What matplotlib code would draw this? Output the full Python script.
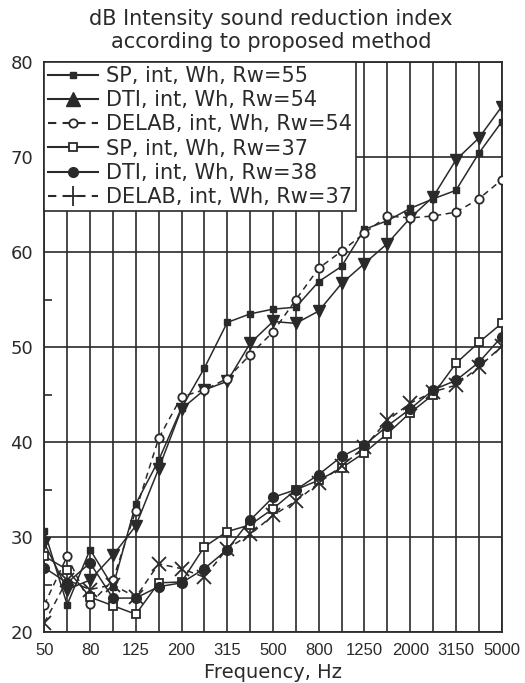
import matplotlib
matplotlib.use("Agg")
import matplotlib.pyplot as plt
from matplotlib.lines import Line2D
from matplotlib.ticker import MultipleLocator, FixedLocator

plt.rcParams['font.family'] = ['DejaVu Sans']

bands = ["50", "63", "80", "100", "125", "160", "200", "250", "315", "400", "500",
         "630", "800", "1000", "1250", "1600", "2000", "2500", "3150", "4000", "5000"]
tick_labels = ["50", "80", "125", "200", "315", "500", "800", "1250", "2000", "3150", "5000"]

sp55 = [30.7, 22.9, 28.7, 24.8, 33.5, 38.1, 43.6, 47.8, 52.6, 53.5, 54.0,
        54.2, 56.9, 58.5, 62.4, 63.3, 64.6, 65.6, 66.5, 70.4, 73.7]
dti54 = [29.4, 24.5, 25.5, 28.1, 31.2, 37.2, 43.5, 45.5, 46.4, 50.4, 52.7,
         52.5, 53.8, 56.7, 58.8, 60.9, 63.6, 65.8, 69.7, 72.0, 75.3]
delab54 = [22.9, 28.0, 23.0, 25.5, 32.8, 40.4, 44.8, 45.5, 46.7, 49.2, 51.6,
           55.0, 58.3, 60.1, 62.0, 63.8, 63.6, 63.8, 64.2, 65.6, 67.6]
sp37 = [28.0, 26.6, 23.7, 22.8, 21.9, 25.2, 25.3, 29.0, 30.6, 31.3, 33.0,
        35.0, 36.0, 37.3, 38.9, 40.9, 43.1, 45.0, 48.3, 50.5, 52.5]
dti38 = [26.8, 25.2, 27.3, 23.6, 23.6, 24.8, 25.2, 26.7, 28.7, 31.8, 34.2,
         35.0, 36.6, 38.5, 39.7, 41.7, 43.5, 45.5, 46.5, 48.4, 51.1]
delab37 = [21.0, 25.5, 24.5, 25.0, 23.7, 27.2, 26.7, 25.8, 28.8, 30.3, 32.3,
           33.8, 35.7, 37.5, 39.5, 42.3, 44.1, 45.3, 46.0, 47.9, 50.1]

labels = ["SP, int, Wh, Rw=55", "DTI, int, Wh, Rw=54", "DELAB, int, Wh, Rw=54",
          "SP, int, Wh, Rw=37", "DTI, int, Wh, Rw=38", "DELAB, int, Wh, Rw=37"]

C = "#2a2a2a"
x = list(range(len(bands)))

fig = plt.figure(figsize=(5.25, 6.83), dpi=100)
ax = fig.add_axes([44.3/525, 1-632.3/683, (501.7-44.3)/525, (632.3-62)/683])

dash = (0, (4, 3))
styles = [
    dict(ls='-', marker='s', ms=4.5, mfc=C),
    dict(ls='-', marker='v', ms=9, mfc=C),
    dict(ls=dash, marker='o', ms=6, mfc='white', mew=1.3),
    dict(ls='-', marker='s', ms=6, mfc='white', mew=1.3),
    dict(ls='-', marker='o', ms=7, mfc=C),
    dict(ls=dash, marker='x', ms=10, mew=1.3),
]
series = [sp55, dti54, delab54, sp37, dti38, delab37]
for s, st in zip(series, styles):
    ax.plot(x, s, color=C, lw=1.1, mec=C, zorder=3, **st)

ax.set_xlim(0, 20)
ax.set_ylim(20, 80)
ax.xaxis.set_major_locator(FixedLocator(list(range(0, 21, 2))))
ax.set_xticklabels(tick_labels, family=['Liberation Sans', 'DejaVu Sans'])
ax.xaxis.set_minor_locator(FixedLocator(list(range(1, 21, 2))))
ax.yaxis.set_major_locator(MultipleLocator(10))
ax.yaxis.set_minor_locator(MultipleLocator(5))
ax.grid(True, which='major', axis='y', color=C, lw=1.2)
ax.grid(True, which='both', axis='x', color=C, lw=1.2)
ax.tick_params(axis='both', which='both', direction='in', color=C, labelcolor=C)
ax.tick_params(axis='y', which='major', length=0, labelsize=13, pad=8)
ax.tick_params(axis='y', which='minor', length=6, width=1.2)
ax.tick_params(axis='x', which='both', length=0, labelsize=12, pad=8)
for sp in ax.spines.values():
    sp.set_color(C)
    sp.set_linewidth(1.3)

ax.set_xlabel("Frequency, Hz", fontsize=14, color=C, labelpad=3)
fig.text(0.516, 0.972, "dB Intensity sound reduction index", ha='center', va='center',
         fontsize=15, color=C)
fig.text(0.516, 0.938, "according to proposed method", ha='center', va='center',
         fontsize=15, color=C)

handles = [
    Line2D([], [], color=C, ls='-', marker='s', ms=4.5, mfc=C, mec=C),
    Line2D([], [], color=C, ls='-', marker='^', ms=10, mfc=C, mec=C),
    Line2D([], [], color=C, ls=dash, marker='o', ms=6, mfc='white', mec=C, mew=1.3),
    Line2D([], [], color=C, ls='-', marker='s', ms=6, mfc='white', mec=C, mew=1.3),
    Line2D([], [], color=C, ls='-', marker='o', ms=7, mfc=C, mec=C),
    Line2D([], [], color=C, ls=dash, marker='+', ms=14, mew=1.3, mec=C),
]
leg = ax.legend(handles, labels, loc='upper left', bbox_to_anchor=(0, 1),
                borderaxespad=0, frameon=True, fancybox=False, fontsize=15,
                handlelength=2.4, handletextpad=0.35, labelspacing=0.2,
                borderpad=0.2, labelcolor=C)
leg.get_frame().set_edgecolor(C)
leg.get_frame().set_linewidth(1.2)
leg.get_frame().set_alpha(1)
leg.set_zorder(5)

fig.savefig("out.png", dpi=100)
